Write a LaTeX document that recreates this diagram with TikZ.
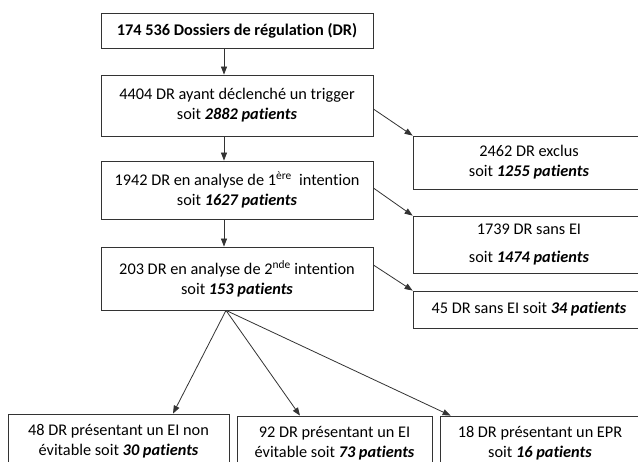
\documentclass[tikz,border=0pt]{standalone}
\usepackage{fontspec}
\setmainfont[RawFeature={-liga}]{Carlito}
\usetikzlibrary{arrows.meta,calc}
\begin{document}
\begin{tikzpicture}[x=1pt,y=-1pt,
  box/.style={draw=black!80, line width=0.8pt, inner sep=0pt, align=center,
    font=\fontsize{16.3}{20}\selectfont},
  arr/.style={draw=black!80, line width=0.8pt, -{Triangle[length=8pt,width=6pt]}}]
\useasboundingbox (0,0) rectangle (638,462);
\clip (0,0) rectangle (638,462);
\fill[white] (0,0) rectangle (638,462);
% main column
\node[box, minimum width=272pt, minimum height=35pt] (b1) at (237,30.5)
  {\textbf{174 536 Dossiers de régulation (DR)}};
\node[box, minimum width=272pt, minimum height=61pt] (b2) at (237,105.5)
  {4404 DR ayant déclenché un trigger\\ soit \textbf{\textit{2882 patients}}};
\node[box, minimum width=272pt, minimum height=58pt] (b3) at (237,190)
  {1942 DR en analyse de 1\textsuperscript{ère}\ \ intention\\ soit \textbf{\textit{1627 patients}}};
\node[box, minimum width=272pt, minimum height=63pt] (b4) at (237,278.5)
  {203 DR en analyse de 2\textsuperscript{nde} intention\\ soit \textbf{\textit{153 patients}}};
% right column
\node[box, minimum width=232pt, minimum height=53pt] (bA) at (529,162.5)
  {2462 DR exclus\\ soit \textbf{\textit{1255 patients}}};
\node[box, minimum width=232pt, minimum height=57pt] (bB) at (529,244.5)
  {1739 DR sans EI\\[8pt] soit \textbf{\textit{1474 patients}}};
\node[box, minimum width=232pt, minimum height=37pt] (bC) at (529,309.5)
  {45 DR sans EI soit \textbf{\textit{34 patients}}};
% bottom row
\node[box, minimum width=221pt, minimum height=54pt] (bL) at (118.5,441)
  {48 DR présentant un EI non\\ évitable soit \textbf{\textit{30 patients}}};
\node[box, minimum width=195pt, minimum height=54pt] (bM) at (334.5,443)
  {92 DR présentant un EI\\ évitable soit \textbf{\textit{73 patients}}};
\node[box, minimum width=200pt, minimum height=54pt] (bR) at (540,443)
  {18 DR présentant un EPR\\ soit \textbf{\textit{16 patients}}};
% connectors
\draw[arr] ($(b1.south)+(-13,0)$) -- ($(b2.north)+(-13,0)$);
\draw[arr] ($(b2.south)+(-13,0)$) -- ($(b3.north)+(-13,0)$);
\draw[arr] ($(b3.south)+(-13,0)$) -- ($(b4.north)+(-13,0)$);
\draw[arr] ($(b2.east)+(0,3.5)$) -- (bA.north west);
\draw[arr] ($(b3.east)+(0,-2)$) -- (bB.north west);
\draw[arr] ($(b4.east)+(0,-13.5)$) -- (bC.north west);
\coordinate (apex) at ($(b4.south)+(-11,0)$);
\draw[arr] (apex) -- ($(bL.north)+(54.5,0)$);
\draw[arr] (apex) -- ($(bM.north)+(-34.5,0)$);
\draw[arr] (apex) -- ($(bR.north west)+(11,0)$);
\end{tikzpicture}
\end{document}
